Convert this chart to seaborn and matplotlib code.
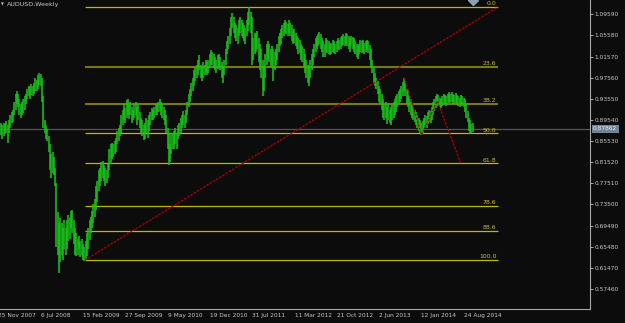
import numpy as np
import pandas as pd
import matplotlib
matplotlib.use("Agg")
import matplotlib.pyplot as plt
import matplotlib.transforms as mtransforms
import seaborn as sns

# ---------------- data (weekly AUDUSD bars) ----------------
first_bar = 3  # week index of first visible bar (index 0 = 25 Nov 2007)

high = [
    .890, .885, .890, .888, .893, .885, .895, .905, .910, .915, .930, .945, .950, .945, .935, .925,
    .930, .935, .940, .945, .955, .960, .958, .963, .960, .965, .975, .972, .980, .985, .982,
    .975, .940, .895, .885, .878, .865, .850, .830, .835, .825, .805, .775, .720, .700, .710, .700,
    .690, .705, .690, .705, .715, .710, .722, .725, .705, .690, .680, .670, .675, .665, .670, .660,
    .655, .665,
    .680, .690, .705, .712, .722, .735, .745, .770, .780, .800, .805, .815, .818, .810, .805, .800,
    .812, .840, .850, .852, .850, .855, .862, .875, .880, .885, .905, .915, .925, .918, .933, .935,
    .925, .930, .920, .915, .925, .930, .920, .925, .910, .900, .895, .885, .890, .900, .895, .905,
    .910, .918, .915, .920, .925, .928, .930, .935, .930, .925, .920, .915, .905, .880, .870, .850,
    .870, .870,
    .875, .880, .870, .885, .890, .900, .905, .912, .905, .915, .930, .945, .955, .965, .975, .990,
    .995, 1.000, 1.010, 1.018, 1.000, .995, 1.005, 1.000, 1.010, 1.005, 1.010, 1.020, 1.028, 1.025,
    1.020, 1.015, 1.010, 1.018, 1.020, 1.015, 1.005, .995, 1.010, 1.030, 1.045, 1.055, 1.070, 1.090,
    1.098, 1.090, 1.080, 1.075, 1.070, 1.085, 1.090, 1.085, 1.080, 1.075, 1.070, 1.085, 1.100, 1.110,
    1.100, 1.090, 1.050, 1.060,
    1.060, 1.065, 1.050, 1.040, 1.030, 1.010, .995, 1.020, 1.040, 1.045,
    1.040, 1.030, 1.035, 1.030, 1.025, 1.030, 1.040, 1.055, 1.060, 1.068,
    1.075, 1.080, 1.085, 1.082, 1.078, 1.085, 1.080, 1.075, 1.065, 1.068,
    1.060, 1.055, 1.050, 1.048, 1.040, 1.035, 1.030, 1.020, 1.010, 1.000,
    .995, 1.010, 1.020, 1.030, 1.040, 1.050, 1.055, 1.058, 1.062, 1.058,
    1.050, 1.045, 1.040, 1.050, 1.048, 1.045, 1.040, 1.042, 1.048, 1.045,
    1.040, 1.045, 1.050, 1.048, 1.052, 1.055, 1.058, 1.055, 1.060, 1.058,
    1.055, 1.050, 1.055, 1.052, 1.050, 1.045, 1.040, 1.035, 1.040, 1.048,
    1.045, 1.048, 1.042, 1.045, 1.048, 1.045, 1.038, 1.030, 1.010, .995,
    .985, .975, .970, .960, .955, .945, .935, .925, .930, .920,
    .925, .915, .920, .925, .930, .935, .940, .945, .950, .955,
    .960, .968, .975, .965, .955, .950, .940, .935, .925, .920,
    .915, .910, .905, .900, .895, .890, .893, .900, .905, .903,
    .910, .915, .912, .920, .930, .935, .940, .945, .942, .938,
    .935, .940, .945, .942, .940, .945, .948, .945, .948, .945,
    .942, .946, .943, .940, .938, .942, .940, .938, .935, .925,
    .912, .900, .895, .888, .890,
]

low = [
    .866, .860, .865, .868, .870, .852, .870, .880, .890, .892, .905, .915, .925, .920, .905, .900,
    .905, .908, .915, .925, .935, .940, .935, .942, .940, .945, .950, .950, .955, .962, .960,
    .930, .880, .870, .860, .855, .835, .800, .785, .795, .790, .770, .655, .640, .605, .625, .640,
    .630, .650, .640, .650, .665, .670, .690, .680, .660, .640, .638, .640, .650, .635, .640, .630,
    .628, .630,
    .638, .650, .668, .680, .690, .700, .712, .725, .740, .760, .770, .780, .785, .780, .770, .776,
    .785, .800, .812, .822, .825, .830, .835, .850, .855, .865, .870, .885, .895, .890, .900, .905,
    .898, .905, .890, .895, .900, .905, .885, .895, .880, .870, .865, .858, .860, .870, .862, .875,
    .885, .895, .895, .900, .905, .905, .910, .912, .905, .900, .895, .885, .870, .840, .810, .815,
    .830, .840,
    .840, .850, .840, .860, .865, .870, .880, .885, .880, .890, .905, .920, .930, .940, .950, .960,
    .970, .975, .980, .990, .975, .970, .975, .980, .985, .980, .985, .995, 1.000, 1.000,
    .995, .990, .985, .992, .995, .990, .975, .965, .980, 1.000, 1.020, 1.030, 1.040, 1.055,
    1.070, 1.060, 1.050, 1.045, 1.040, 1.055, 1.060, 1.055, 1.050, 1.045, 1.040, 1.055, 1.065, 1.075,
    1.060, 1.000, 1.010, 1.020,
    1.025, 1.030, 1.005, .990, .975, .940, .950, .975, 1.000, 1.010,
    1.005, .995, 1.000, .970, .990, 1.000, 1.010, 1.025, 1.035, 1.040,
    1.050, 1.055, 1.060, 1.058, 1.055, 1.060, 1.055, 1.045, 1.040, 1.042,
    1.035, 1.030, 1.020, 1.022, 1.010, 1.005, .995, .985, .975, .965,
    .960, .975, .990, 1.000, 1.015, 1.025, 1.030, 1.035, 1.040, 1.030,
    1.025, 1.015, 1.015, 1.025, 1.022, 1.020, 1.018, 1.020, 1.025, 1.022,
    1.020, 1.025, 1.030, 1.028, 1.030, 1.035, 1.038, 1.035, 1.040, 1.035,
    1.030, 1.025, 1.035, 1.030, 1.025, 1.020, 1.015, 1.012, 1.020, 1.025,
    1.022, 1.025, 1.020, 1.025, 1.028, 1.022, 1.010, .995, .985, .965,
    .960, .955, .945, .930, .925, .915, .900, .895, .900, .888,
    .895, .890, .885, .895, .900, .905, .910, .920, .925, .930,
    .935, .940, .950, .940, .925, .920, .910, .905, .900, .895,
    .892, .885, .880, .875, .870, .866, .870, .880, .885, .880,
    .888, .892, .890, .895, .905, .912, .918, .925, .922, .920,
    .918, .922, .925, .925, .922, .928, .930, .928, .930, .925,
    .925, .928, .925, .922, .920, .925, .922, .920, .910, .900,
    .892, .875, .868, .870, .872,
]

week_ticks = [0, 32, 64, 96, 128, 160, 192, 224, 256, 288, 320, 352]
week_labels = ["25 Nov 2007", "6 Jul 2008", "15 Feb 2009", "27 Sep 2009", "9 May 2010",
               "19 Dec 2010", "31 Jul 2011", "11 Mar 2012", "21 Oct 2012", "2 Jun 2013",
               "12 Jan 2014", "24 Aug 2014"]
price_ticks = [1.09590, 1.05580, 1.01570, 0.97560, 0.93550, 0.89540, 0.85530,
               0.81520, 0.77510, 0.73500, 0.69490, 0.65480, 0.61470, 0.57460]

fib_levels = [0.0, 23.6, 38.2, 50.0, 61.8, 78.6, 88.6, 100.0]
fib_high = 1.1098
fib_low = 0.6296
fib_x = [66.6, 379.1]          # week index span of the Fibonacci object

trend_x = [66.6, 379.1]
trend_y = [0.6296, 1.1098]
abcd_x = [308.2, 321.3, 333.1, 351.1]
abcd_y = [0.9756, 0.8668, 0.9314, 0.812]

last_price = 0.87862
title = "AUDUSD,Weekly"

# ---------------- style ----------------
BG = "#0c0c0c"
BAR = "#18c018"
FIB = "#bdb800"
FIB_DIM = "#7b7716"
TXT = "#c8c8c8"
AXC = "#a8a8a8"

sns.set_style("dark", {"axes.facecolor": BG, "figure.facecolor": BG,
                       "axes.edgecolor": AXC})
plt.rcParams["font.family"] = ["DejaVu Sans"]

W, H = 625, 323
fig = plt.figure(figsize=(W / 100, H / 100), dpi=100, facecolor=BG)
ax = fig.add_axes([0, 14 / H, 590 / W, 309 / H])
ax.set_facecolor(BG)
ax.grid(False)

xlim = (2.27, 448.66)
ylim = (0.53665, 1.12304)
ax.set_xlim(*xlim)
ax.set_ylim(*ylim)

# current price line
ax.axhline(last_price, color="#555555", lw=0.9, zorder=1)

# Fibonacci levels
rng = fib_high - fib_low
for lv in fib_levels:
    p = fib_high - rng * lv / 100.0
    dim = lv in (23.6, 38.2)
    ax.hlines(p, fib_x[0], fib_x[1], colors=FIB_DIM if dim else FIB,
              lw=1.5 if dim else 0.9, zorder=2)
    ax.text(fib_x[1] - 1.1, p + 0.0015, f"{lv:.1f}", ha="right", va="bottom",
            fontsize=4.4, color="#c8c038", zorder=5)

# weekly bars
df = pd.DataFrame({"week": np.arange(first_bar, first_bar + len(high)),
                   "high": high, "low": low})
ax.vlines(df["week"], df["low"], df["high"], colors=BAR, lw=1.15, zorder=3)

# trend lines
sns.lineplot(x=trend_x, y=trend_y, ax=ax, color="#b00000", lw=0.9,
             linestyle=(0, (2, 1)), legend=False, zorder=4)
sns.lineplot(x=abcd_x, y=abcd_y, ax=ax, color="#b00000", lw=0.9, sort=False,
             linestyle=(0, (2, 1)), legend=False, zorder=4)

# small object marker at top
ax.plot([360.1], [1.12304], marker="D", ms=5, color="#8fa0b4", zorder=6)

# spines
for s in ("top", "left"):
    ax.spines[s].set_visible(False)
for s in ("right", "bottom"):
    ax.spines[s].set_color(AXC)
    ax.spines[s].set_linewidth(0.8)

# y axis on the right
ax.yaxis.tick_right()
ax.set_yticks(price_ticks)
ax.set_yticklabels([f"{v:.5f}" for v in price_ticks])
ax.tick_params(axis="y", which="both", direction="out", length=2.5, width=0.7,
               color=AXC, labelcolor=TXT, labelsize=4.2, pad=1, left=False, right=True)

# x axis ticks
vis = [(t, l) for t, l in zip(week_ticks, week_labels) if xlim[0] <= t <= xlim[1]]
ax.set_xticks([t for t, _ in vis])
ax.set_xticklabels([l for _, l in vis])
ax.tick_params(axis="x", direction="out", length=3.5, width=0.7, color=AXC,
               labelcolor=TXT, labelsize=4.2, pad=0)
off = mtransforms.ScaledTranslation(1.5 / 100, 0.8 / 100, fig.dpi_scale_trans)
for lbl in ax.get_xticklabels():
    lbl.set_horizontalalignment("left")
    lbl.set_transform(lbl.get_transform() + off)
# tick label(s) whose tick lies left of the view
bt = mtransforms.blended_transform_factory(ax.transData, ax.transAxes)
for t, l in zip(week_ticks, week_labels):
    if t < xlim[0]:
        ax.text(t, 0, l, transform=bt + mtransforms.ScaledTranslation(1.5 / 100, -6.8 / 100, fig.dpi_scale_trans),
                ha="left", va="center", fontsize=4.2, color=TXT, clip_on=False)
ax.set_xlabel("")
ax.set_ylabel("")

# title
ax.text(7 / 590, 1 - 4.5 / 309, title, transform=ax.transAxes, ha="left", va="center",
        fontsize=4.6, color=TXT)
ax.text(2.5 / 590, 1 - 4.5 / 309, "\u25BC", transform=ax.transAxes, ha="center", va="center",
        fontsize=2.6, color=TXT)

# last price box
yt = mtransforms.blended_transform_factory(ax.transAxes, ax.transData)
ax.text(1 + 3 / 590, last_price, f"{last_price:.5f}", transform=yt, ha="left", va="center",
        fontsize=4.2, color="#e6ecf2", clip_on=False, zorder=7,
        bbox=dict(boxstyle="square,pad=0.25", fc="#72849a", ec="none"))

fig.savefig("out.png", dpi=100, facecolor=BG)
